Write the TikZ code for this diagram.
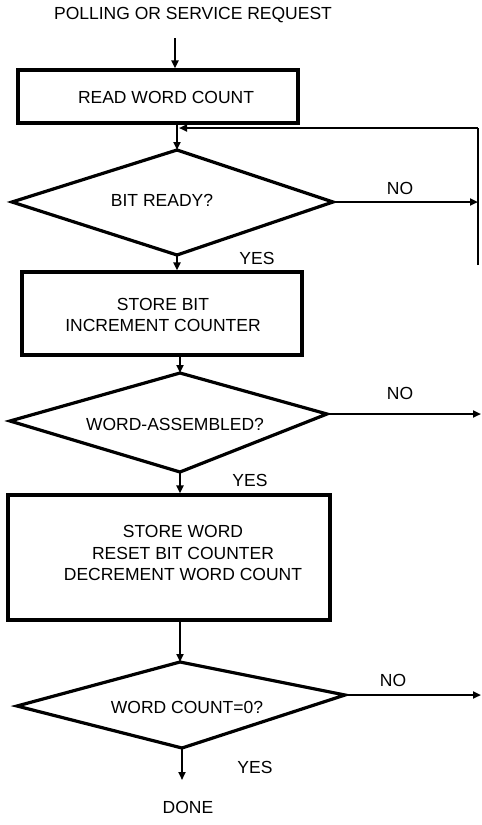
\documentclass[tikz,border=0pt]{standalone}
\usepackage{fontspec}
\setmainfont{Liberation Sans}
\usetikzlibrary{arrows.meta}
\begin{document}
\begin{tikzpicture}[x=1pt,y=-1pt,
  lbl/.style={font=\fontsize{17.5}{21.5}\selectfont, inner sep=0pt, align=center},
  procbox/.style={draw, line width=3.2pt, inner sep=0pt},
  shapeline/.style={line width=3.2pt, line join=miter},
  flow/.style={line width=2.4pt, -{Triangle[length=8pt,width=7pt]}},
  plain/.style={line width=2.4pt}]
\useasboundingbox (0,0) rectangle (482,825);

% title
\node[lbl] (title) at (193,15) {POLLING OR SERVICE REQUEST};
\coordinate (start) at (175,38);

% box 1
\node[procbox, minimum width=280pt, minimum height=53pt] (b1) at (158,96.5) {};
\node[lbl] (t1) at (166,97) {READ WORD COUNT};

% diamond 1
\coordinate (d1t) at (177,150);
\coordinate (d1l) at (12,202);
\coordinate (d1r) at (333,202);
\coordinate (d1b) at (177,255);
\draw[shapeline] (d1t) -- (d1r) -- (d1b) -- (d1l) -- cycle;
\node[lbl] (td1) at (162,200) {BIT READY?};

% box 2
\node[procbox, minimum width=280pt, minimum height=83pt] (b2) at (162,313.5) {};
\node[lbl] (t2) at (163,315) {STORE BIT\\INCREMENT COUNTER};

% diamond 2
\coordinate (d2t) at (180,373);
\coordinate (d2l) at (10,421);
\coordinate (d2r) at (327,414);
\coordinate (d2b) at (180,472);
\draw[shapeline] (d2t) -- (d2r) -- (d2b) -- (d2l) -- cycle;
\node[lbl] (td2) at (175,424) {WORD-ASSEMBLED?};

% box 3
\node[procbox, minimum width=322pt, minimum height=125pt] (b3) at (169,557.5) {};
\node[lbl] (t3) at (183,553) {STORE WORD\\RESET BIT COUNTER\\DECREMENT WORD COUNT};

% diamond 3
\coordinate (d3t) at (180,662);
\coordinate (d3l) at (17,706);
\coordinate (d3r) at (345,695);
\coordinate (d3b) at (182,748);
\draw[shapeline] (d3t) -- (d3r) -- (d3b) -- (d3l) -- cycle;
\node[lbl] (td3) at (187,707) {WORD COUNT=0?};

\node[lbl] (done) at (188,807) {DONE};

% free ends
\coordinate (no1) at (478,202);
\coordinate (looptop) at (478,128);
\coordinate (loopbot) at (478,265);
\coordinate (entry) at (177,128);
\coordinate (no2) at (481,414);
\coordinate (no3) at (481,695);
\coordinate (yesend) at (182,780);

% connectors
\draw[flow] (start) -- (b1.north -| start);
\draw[flow] (b1.south -| d1t) -- (d1t);
\draw[plain] (loopbot) -- (looptop);
\draw[flow] (looptop) -- ([xshift=2pt]entry);
\draw[flow] (d1r) -- (no1);
\draw[flow] (d1b) -- (b2.north -| d1b);
\draw[flow] (b2.south -| d2t) -- (d2t);
\draw[flow] (d2r) -- (no2);
\draw[flow] (d2b) -- (b3.north -| d2b);
\draw[flow] (b3.south -| d3t) -- (d3t);
\draw[flow] (d3r) -- (no3);
\draw[flow] (d3b) -- (yesend);

% labels
\node[lbl] (no1l) at (400,188) {NO};
\node[lbl] (yes1l) at (257,258) {YES};
\node[lbl] (no2l) at (400,393) {NO};
\node[lbl] (yes2l) at (250,480) {YES};
\node[lbl] (no3l) at (393,680) {NO};
\node[lbl] (yes3l) at (255,767) {YES};
\end{tikzpicture}
\end{document}
